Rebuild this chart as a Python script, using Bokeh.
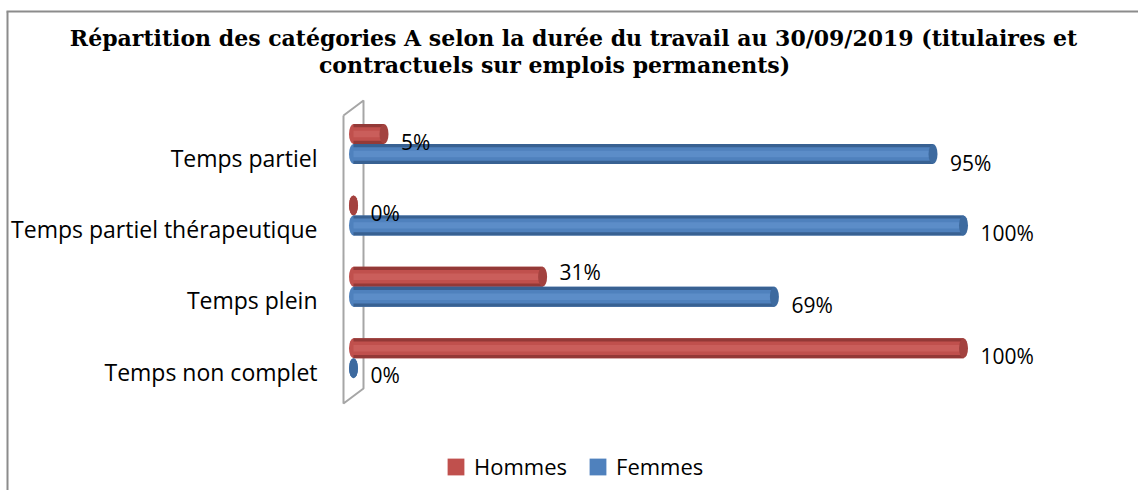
from bokeh.plotting import figure
from bokeh.models import Range1d, Legend, LegendItem, Label
from bokeh.core.properties import value
from bokeh.embed import file_html
from bokeh.resources import INLINE

# ---------------- data ----------------
categories = ["Temps partiel", "Temps partiel thérapeutique", "Temps plein", "Temps non complet"]
hommes = [5, 0, 31, 100]
femmes = [95, 100, 69, 0]
series_names = ["Hommes", "Femmes"]
title_lines = [
    "Répartition des catégories A selon la durée du travail au 30/09/2019 (titulaires et",
    "contractuels sur emplois permanents)",
]

# ---------------- styling ----------------
# vertical nudge (px) of each data label, as placed in the original chart
label_dy_hommes = [8, 8, -4.5, 7.5]
label_dy_femmes = [8.5, 7.5, 8, 7]

W, H = 1138, 490
X0, S = 353.0, 6.1        # pixel of 0 %, pixels per percent
Y0, STEP = 143.5, 71.4    # pixel of first category centre, spacing


def fx(px):
    return (px - X0) / S


def fy(py):
    return (py - Y0) / STEP


p = figure(width=W, height=H, output_backend="svg", toolbar_location=None,
           x_range=Range1d(fx(0), fx(W)), y_range=Range1d(fy(H), fy(0)),
           x_axis_location=None, y_axis_location=None,
           min_border=0, outline_line_color=None)
p.grid.visible = False
p.background_fill_color = "white"
p.border_fill_color = "white"

# outer chart border (cut at right / bottom like the reference)
BORDER = "#8C8C8C"
p.line([fx(7), fx(7)], [fy(11), fy(H)], line_color=BORDER, line_width=2)
p.line([fx(6), fx(W)], [fy(11), fy(11)], line_color=BORDER, line_width=2)

# 3D side wall
wall_x = [fx(343), fx(363), fx(363), fx(343), fx(343)]
wall_y = [fy(115), fy(100), fy(388), fy(403), fy(115)]
p.line(wall_x, wall_y, line_color="#A6A6A6", line_width=2)

# ---------------- cylinders ----------------
hh = 20.0 / STEP
off = 10.0 / STEP
capw = 9.0 / S
idx = list(range(len(categories)))

series = [
    (hommes, [i - off for i in idx], "#C0504D", "#933937", "#CA5E5B", "#A3423F", label_dy_hommes),
    (femmes, [i + off for i in idx], "#4F81BD", "#386192", "#5C8DC8", "#3D6A9F", label_dy_femmes),
]

renderers = []
for vals, ys, base, dark, light, cap, _ in series:
    zeros = [0] * len(vals)
    p.ellipse(x=zeros, y=ys, width=capw, height=hh, fill_color=base, line_color=None)
    r = p.hbar(y=ys, left=0, right=vals, height=hh, fill_color=base, line_color=None)
    renderers.append(r)
    p.hbar(y=[y - hh * 0.42 for y in ys], left=0, right=vals, height=hh * 0.16,
           fill_color=dark, line_color=None)
    p.hbar(y=[y + hh * 0.42 for y in ys], left=0, right=vals, height=hh * 0.16,
           fill_color=dark, line_color=None)
    p.hbar(y=ys, left=0, right=vals, height=hh * 0.32, fill_color=light, line_color=None)
    p.ellipse(x=vals, y=ys, width=capw, height=hh, fill_color=cap, line_color=None)

# value labels (drawn after every bar so nothing hides them)
for vals, ys, *_, dys in series:
    p.text(x=vals, y=ys, text=[f"{v}%" for v in vals], x_offset=17, y_offset=dys,
           text_baseline="middle", text_align="left",
           text_font=value("Open Sans"), text_font_size=value("21px"), text_color="#000000")

# category labels
p.text(x=[fx(317)] * len(categories), y=idx, text=categories, y_offset=13.5,
       text_align="right", text_baseline="middle",
       text_font=value("Open Sans"), text_font_size=value("23px"), text_color="#000000")

# title
for txt, cx, cy in [(title_lines[0], 573, 37), (title_lines[1], 554, 64)]:
    p.add_layout(Label(x=fx(cx), y=fy(cy), text=txt, text_align="center",
                       text_baseline="middle", text_font="DejaVu Serif",
                       text_font_style="bold", text_font_size="22px", text_color="#000000"))

# legend
legend = Legend(items=[LegendItem(label=series_names[0], renderers=[renderers[0]]),
                       LegendItem(label=series_names[1], renderers=[renderers[1]])],
                orientation="horizontal", location=(445, 9),
                glyph_width=21, glyph_height=21, label_standoff=8, spacing=20,
                padding=0, margin=0, border_line_color=None, background_fill_alpha=0,
                label_text_font="Open Sans", label_text_font_size="22px",
                label_text_color="#000000")
p.add_layout(legend)

open("out.html", "w").write(file_html(p, INLINE))
